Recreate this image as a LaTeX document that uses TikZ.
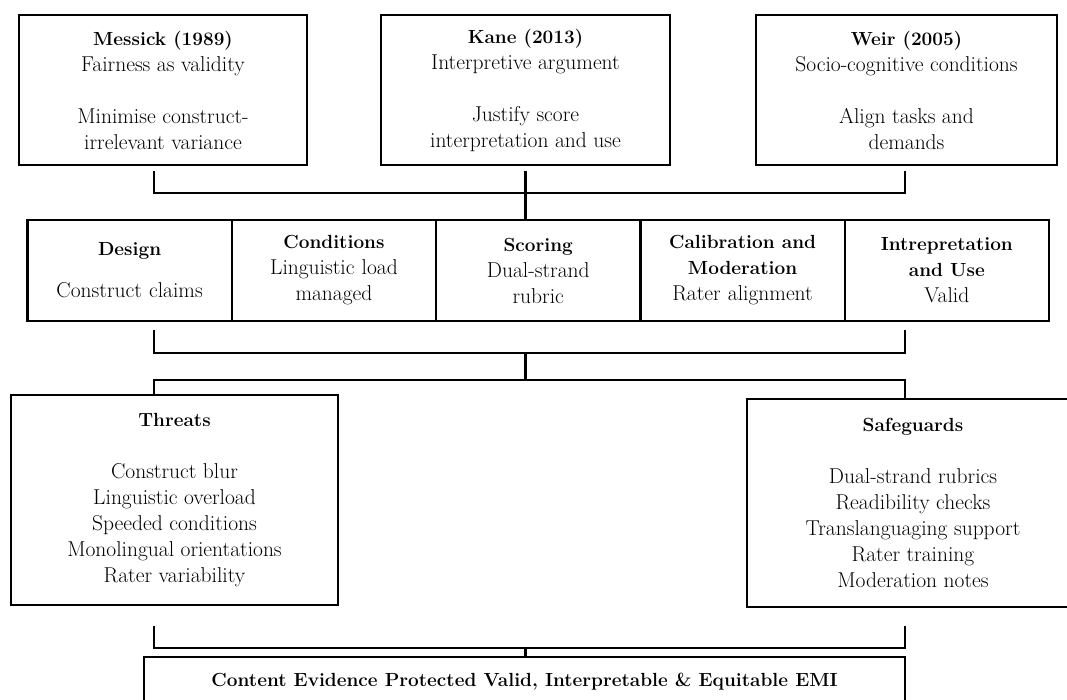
\documentclass[tikz,border=0pt]{standalone}
\usepackage{tikz}
\usetikzlibrary{calc,positioning}
\newcommand{\hdr}[1]{{\fontsize{19}{26}\selectfont\bfseries #1}}
\tikzset{
  txt/.style={font=\fontsize{21.5}{26}\selectfont, align=center, inner sep=2pt},
  src/.style={txt, rectangle, draw=black, line width=2.2pt, minimum width=288pt, minimum height=150pt},
  stage/.style={txt, rectangle, draw=black, line width=2.2pt, outer sep=0pt, text width=196pt, minimum width=204.3pt, minimum height=101pt},
  risk/.style={txt, rectangle, draw=black, line width=2.2pt, minimum height=210pt},
  outc/.style={txt, rectangle, draw=black, line width=2.2pt, minimum width=761pt, minimum height=50pt},
  line/.style={draw, line width=2.2pt},
}

\begin{document}
\begin{tikzpicture}[x=1pt,y=-1pt]
    \clip (0,0) rectangle (1067,700);

    \node[src] (mess) at (163,90) {\hdr{Messick (1989)}\\Fairness as validity\\[26pt]Minimise construct-\\irrelevant variance};
    \node[src,minimum width=289pt] (kane) at (525.5,90) {\hdr{Kane (2013)}\\Interpretive argument\\[26pt]Justify score\\interpretation and use};
    \node[src,minimum width=301pt] (weir) at (906.5,90) {\hdr{Weir (2005)}\\Socio-cognitive conditions\\[26pt]Align tasks and\\demands};

    \node[stage] (des) at (129.65,270.5) {\hdr{Design}\\[16pt]Construct claims};
    \node[stage,right=0pt of des] (cond) {\hdr{Conditions}\\Linguistic load\\managed};
    \node[stage,right=0pt of cond] (scor) {\hdr{Scoring}\\Dual-strand\\rubric};
    \node[stage,right=0pt of scor] (calib) {\hdr{Calibration and}\\\hdr{Moderation}\\Rater alignment};
    \node[stage,right=0pt of calib] (interp) {\hdr{Intrepretation}\\\hdr{and Use}\\Valid};

    \node[risk,minimum width=327pt] (thr) at (174.5,500) {\hdr{Threats}\\[26pt]Construct blur\\Linguistic overload\\Speeded conditions\\Monolingual orientations\\Rater variability};
    \node[risk,minimum width=332pt,minimum height=208pt] (safe) at (913,503) {\hdr{Safeguards}\\[26pt]Dual-strand rubrics\\Readibility checks\\Translanguaging support\\Rater training\\Moderation notes};

    \node[outc] (cont) at (524.5,682) {\hdr{Content Evidence Protected Valid, Interpretable \& Equitable EMI}};

    \coordinate (tl) at (154,193);
    \coordinate (tr) at (905,193);
    \coordinate (ml) at (154,353);
    \coordinate (mr) at (905,353);
    \coordinate (sl) at (154,380);
    \coordinate (sr) at (905,380);
    \coordinate (bl) at (154,648);
    \coordinate (br) at (905,648);

    \begin{scope}[every path/.style=line]
      \path ([yshift=-5pt]mess.south -| tl) -- (tl) -- (tr) -- ([yshift=-5pt]weir.south -| tr);
      \path ([yshift=-5pt]kane.south) -- (kane.south |- scor.north);

      \path ([yshift=-9pt]des.south -| ml) -- (ml) -- (mr) -- ([yshift=-9pt]interp.south -| mr);
      \path (kane.south |- ml) -- (kane.south |- sl);
      \path (thr.north -| sl) -- (sl) -- (sr) -- (safe.north -| sr);

      \path ([yshift=-20pt]thr.south -| bl) -- (bl) -- (br) -- ([yshift=-18pt]safe.south -| br);
      \path (kane.south |- bl) -- (kane.south |- cont.north);
    \end{scope}
\end{tikzpicture}
\end{document}
